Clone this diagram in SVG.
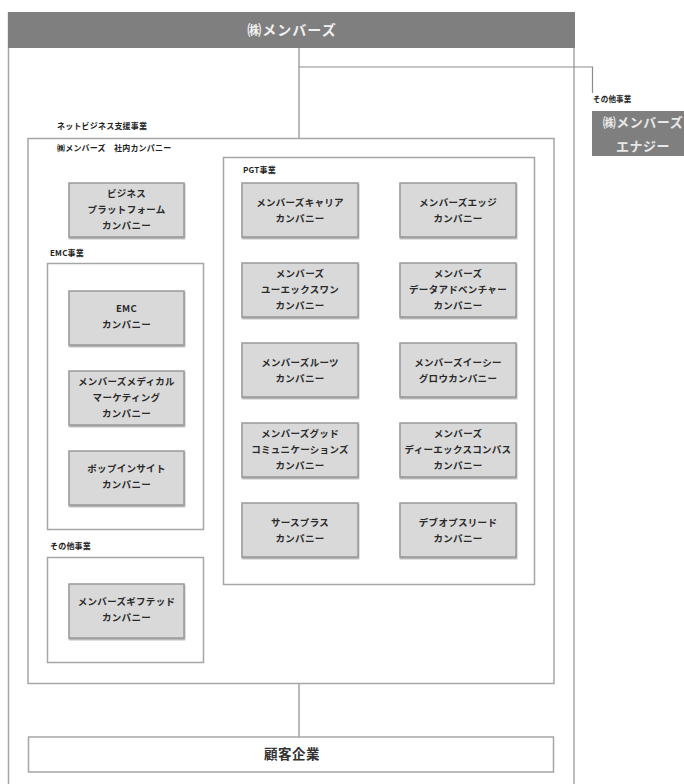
<svg xmlns="http://www.w3.org/2000/svg" width="684" height="784" viewBox="0 0 684 784">
<defs>
<filter id="sh" x="-5%" y="-5%" width="115%" height="125%">
<feDropShadow dx="0.5" dy="1.5" stdDeviation="0.6" flood-color="#777" flood-opacity="0.6"/>
</filter>
</defs>
<style>
text{font-family:"Noto Sans CJK JP","Noto Sans",sans-serif;font-weight:bold;}
.frame{fill:#fff;stroke:#a6a6a6;stroke-width:1.5;}
.node{fill:#d9d9d9;stroke:#999;stroke-width:1.5;filter:url(#sh);}
.dark{fill:#7f7f7f;}
.nt{font-size:9.5px;fill:#2a2a2a;text-anchor:middle;letter-spacing:0.3px;}
.lbl{font-size:8px;fill:#222;letter-spacing:0.2px;}
.conn{stroke:#8c8c8c;stroke-width:1.2;fill:none;}
</style>

<g id="root">
<line x1="8.5" y1="12" x2="8.5" y2="784" stroke="#a6a6a6" stroke-width="1.5"/>
<line x1="574" y1="12" x2="574" y2="784" stroke="#a6a6a6" stroke-width="1.5"/>
<rect x="8" y="12" width="567" height="36" class="dark"/>
<text x="292" y="35" style="font-size:14px;fill:#f0f0f0;text-anchor:middle;letter-spacing:1px">㈱メンバーズ</text>
</g>

<g id="connectors">
<polyline class="conn" points="299,48 299,138"/>
<polyline class="conn" points="299,67 592.5,67 592.5,93"/>
<polyline class="conn" points="299,684 299,737"/>
</g>

<g id="energy">
<text x="593" y="102" class="lbl" style="font-size:7.5px">その他事業</text>
<rect x="592" y="111" width="96" height="45" class="dark"/>
<text x="643" y="127" style="font-size:13px;fill:#e8e8e8;text-anchor:middle;letter-spacing:0.5px">㈱メンバーズ</text>
<text x="643" y="151" style="font-size:13px;fill:#e8e8e8;text-anchor:middle;letter-spacing:0.5px">エナジー</text>
</g>

<g id="net-business">
<text x="57" y="129" class="lbl">ネットビジネス支援事業</text>
<rect x="28" y="138.5" width="526" height="545" class="frame"/>
<text x="57" y="151" class="lbl">㈱メンバーズ　社内カンパニー</text>
</g>

<g id="platform">
<rect x="69" y="183" width="115" height="54" class="node"/>
<text class="nt" x="126.5" y="197">ビジネス</text>
<text class="nt" x="126.5" y="213">プラットフォーム</text>
<text class="nt" x="126.5" y="229">カンパニー</text>
</g>

<g id="emc-group">
<text x="50" y="256" class="lbl">EMC事業</text>
<rect x="47.5" y="263.5" width="156" height="266" class="frame"/>
</g>

<g id="emc">
<rect x="69" y="291" width="115" height="54" class="node"/>
<text class="nt" x="126.5" y="312">EMC</text>
<text class="nt" x="126.5" y="328">カンパニー</text>
</g>

<g id="medical">
<rect x="69" y="371" width="115" height="54" class="node"/>
<text class="nt" x="126.5" y="385">メンバーズメディカル</text>
<text class="nt" x="126.5" y="401">マーケティング</text>
<text class="nt" x="126.5" y="417">カンパニー</text>
</g>

<g id="popinsight">
<rect x="69" y="451" width="115" height="54" class="node"/>
<text class="nt" x="126.5" y="472">ポップインサイト</text>
<text class="nt" x="126.5" y="488">カンパニー</text>
</g>

<g id="other-group">
<text x="50" y="549" class="lbl">その他事業</text>
<rect x="47.5" y="557.5" width="156" height="105" class="frame"/>
</g>

<g id="gifted">
<rect x="69" y="584" width="115" height="54" class="node"/>
<text class="nt" x="126.5" y="605">メンバーズギフテッド</text>
<text class="nt" x="126.5" y="621">カンパニー</text>
</g>

<g id="pgt-group">
<rect x="223.5" y="157.5" width="311" height="427" class="frame"/>
<text x="243" y="173" class="lbl">PGT事業</text>
</g>

<g id="career">
<rect x="242" y="183" width="116" height="54" class="node"/>
<text class="nt" x="300" y="206">メンバーズキャリア</text>
<text class="nt" x="300" y="222">カンパニー</text>
</g>

<g id="edge">
<rect x="400" y="183" width="116" height="54" class="node"/>
<text class="nt" x="458" y="206">メンバーズエッジ</text>
<text class="nt" x="458" y="222">カンパニー</text>
</g>

<g id="uxone">
<rect x="242" y="263" width="116" height="54" class="node"/>
<text class="nt" x="300" y="277">メンバーズ</text>
<text class="nt" x="300" y="293">ユーエックスワン</text>
<text class="nt" x="300" y="309">カンパニー</text>
</g>

<g id="data">
<rect x="400" y="263" width="116" height="54" class="node"/>
<text class="nt" x="458" y="277">メンバーズ</text>
<text class="nt" x="458" y="293">データアドベンチャー</text>
<text class="nt" x="458" y="309">カンパニー</text>
</g>

<g id="roots">
<rect x="242" y="343" width="116" height="54" class="node"/>
<text class="nt" x="300" y="366">メンバーズルーツ</text>
<text class="nt" x="300" y="382">カンパニー</text>
</g>

<g id="ecgrow">
<rect x="400" y="343" width="116" height="54" class="node"/>
<text class="nt" x="458" y="366">メンバーズイーシー</text>
<text class="nt" x="458" y="382">グロウカンパニー</text>
</g>

<g id="good">
<rect x="242" y="423" width="116" height="54" class="node"/>
<text class="nt" x="300" y="437">メンバーズグッド</text>
<text class="nt" x="300" y="453">コミュニケーションズ</text>
<text class="nt" x="300" y="469">カンパニー</text>
</g>

<g id="dx">
<rect x="400" y="423" width="116" height="54" class="node"/>
<text class="nt" x="458" y="437">メンバーズ</text>
<text class="nt" x="458" y="453">ディーエックスコンパス</text>
<text class="nt" x="458" y="469">カンパニー</text>
</g>

<g id="saas">
<rect x="242" y="503" width="116" height="54" class="node"/>
<text class="nt" x="300" y="526">サースプラス</text>
<text class="nt" x="300" y="542">カンパニー</text>
</g>

<g id="devops">
<rect x="400" y="503" width="116" height="54" class="node"/>
<text class="nt" x="458" y="526">デブオプスリード</text>
<text class="nt" x="458" y="542">カンパニー</text>
</g>

<g id="customer">
<rect x="28.5" y="737" width="525" height="35" class="frame"/>
<text x="292" y="759" style="font-size:13.5px;fill:#333;text-anchor:middle;letter-spacing:0.5px">顧客企業</text>
</g>
</svg>
